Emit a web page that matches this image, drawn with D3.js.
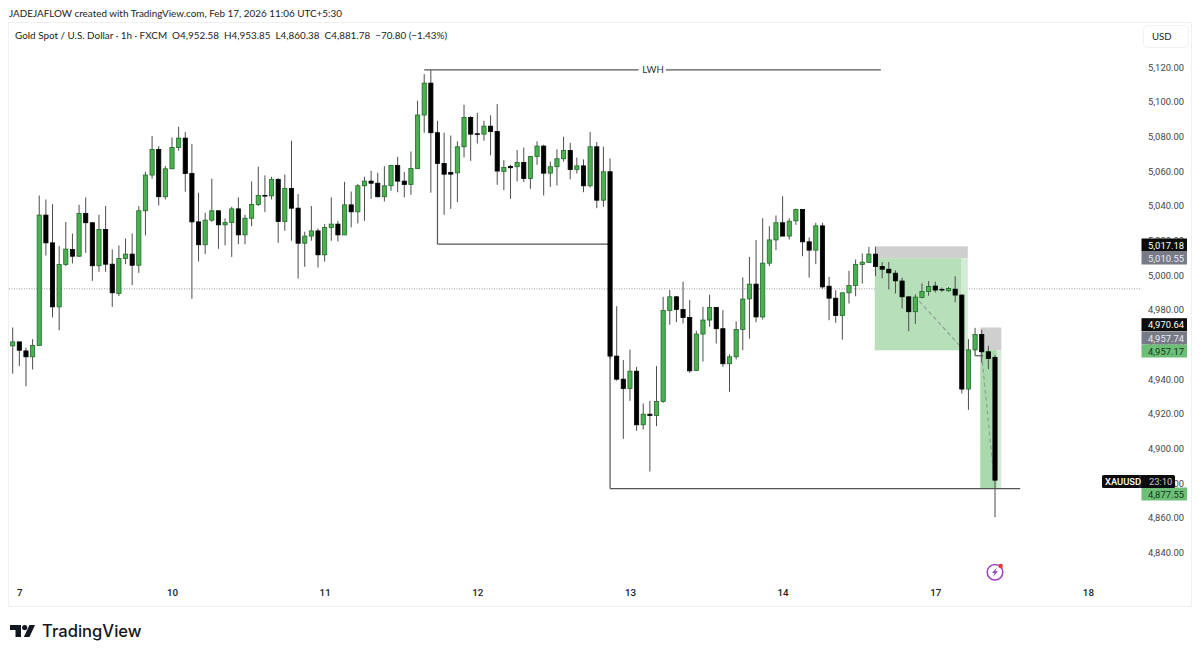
<!DOCTYPE html>
<html>
<head>
<meta charset="utf-8">
<script src="https://cdn.jsdelivr.net/npm/d3@7"></script>
<style>
  html, body { margin: 0; padding: 0; background: #fff; }
  svg { display: block; }
  text { font-family: "Lato", sans-serif; fill: #222; white-space: pre; }
  .axis text, .tag text { font-family: "Roboto", sans-serif; }
</style>
</head>
<body>
<div id="root"></div>
<script>
const opens = [
  4959.2,4961.5,4956.3,4952.9,4959.4,5034.6,5018.6,4981.7,5006.1,5014.8,
  5010.9,5035.6,5030.2,5005.4,5026.3,5006.3,4989.4,5009.6,5012.1,5005.7,
  5037.1,5057.7,5072.5,5045.2,5061.3,5073.6,5079.0,5058.6,5030.7,5017.5,
  5031.7,5037.1,5029.0,5030.3,5038.2,5023.2,5032.8,5040.7,5045.9,5045.7,
  5055.2,5030.9,5050.0,5038.6,5018.4,5022.5,5025.5,5011.7,5027.5,5029.4,
  5023.2,5040.5,5036.5,5051.5,5054.2,5053.0,5045.2,5051.5,5063.2,5054.2,
  5052.3,5061.5,5092.3,5110.7,5082.1,5064.4,5059.2,5059.0,5074.0,5090.9,
  5081.5,5081.3,5085.9,5082.8,5059.8,5062.7,5062.5,5065.0,5055.7,5068.4,
  5074.4,5058.8,5062.5,5067.1,5071.9,5060.9,5063.0,5051.5,5074.0,5043.2,
  5059.6,4953.3,4940.0,4934.6,4944.6,4913.7,4919.8,4919.1,4927.1,4979.6,
  4987.5,4980.2,4975.6,4945.0,4966.0,4974.1,4981.4,4969.1,4948.9,4952.9,
  4968.7,4986.3,4994.8,4975.9,5006.9,5020.3,5030.2,5022.5,5031.3,5037.8,
  5019.2,5014.4,5028.4,4993.6,4986.7,4976.7,4989.8,4994.0,5006.1,5007.3,
  5012.1,5005.0,5003.4,5001.1,4996.6,4987.5,4978.9,4987.1,4990.6,4993.7,
  4991.8,4991.0,4991.9,4988.5,4934.3,4956.9,4965.8,4955.8,4952.58
];
const closes = [
  4961.5,4956.7,4952.9,4959.4,5034.6,5018.6,4981.7,5006.1,5015.0,5010.9,
  5035.6,5030.2,5005.4,5026.3,5006.3,4989.8,5009.6,5012.1,5005.7,5037.1,
  5057.7,5072.5,5045.2,5061.3,5073.6,5079.0,5058.6,5030.7,5017.5,5031.7,
  5037.1,5029.0,5030.3,5038.2,5023.2,5032.8,5040.7,5045.9,5045.7,5055.2,
  5030.9,5050.0,5038.6,5018.4,5022.5,5025.5,5011.7,5027.5,5029.4,5023.2,
  5040.5,5036.5,5051.5,5054.2,5053.0,5045.2,5051.5,5063.2,5054.2,5052.3,
  5061.5,5092.3,5110.7,5082.1,5064.4,5058.2,5058.2,5074.0,5090.9,5081.3,
  5081.2,5085.9,5082.8,5060.0,5062.1,5061.9,5065.0,5055.7,5068.4,5074.4,
  5058.8,5062.5,5067.1,5071.9,5060.9,5063.0,5051.5,5074.0,5043.2,5059.6,
  4953.3,4940.0,4934.6,4944.6,4913.7,4919.8,4919.1,4927.1,4979.6,4987.5,
  4980.2,4975.6,4944.8,4966.0,4974.1,4981.4,4969.1,4948.9,4952.9,4968.7,
  4986.2,4994.8,4975.9,5006.9,5020.3,5030.2,5022.5,5031.1,5037.8,5019.2,
  5014.4,5028.4,4993.2,4986.7,4976.7,4989.8,4994.0,5006.1,5007.5,5012.1,
  5005.0,5003.4,5001.3,4996.7,4987.5,4978.9,4987.3,4990.6,4993.5,4991.4,
  4991.4,4992.3,4988.5,4934.3,4956.9,4965.8,4955.8,4951.9,4881.78
];
const highs = [
  4969.8,4961.6,4958.2,4963.1,5045.9,5043.6,5040.9,5016.7,5030.6,5024.0,
  5040.6,5044.8,5030.2,5034.8,5039.8,5014.8,5017.1,5021.1,5024.0,5039.8,
  5059.6,5080.2,5074.4,5062.9,5079.4,5085.6,5082.5,5075.6,5047.5,5035.9,
  5055.6,5037.1,5032.7,5039.4,5044.8,5034.8,5054.0,5062.5,5057.5,5056.7,
  5055.9,5058.0,5077.5,5046.7,5025.0,5039.8,5026.9,5029.4,5044.8,5031.3,
  5053.8,5048.2,5052.5,5056.7,5060.2,5059.0,5062.8,5063.6,5068.2,5059.4,
  5071.3,5100.5,5115.9,5118.2,5089.0,5082.1,5080.5,5077.1,5098.2,5091.7,
  5093.6,5089.0,5092.1,5098.6,5066.3,5063.6,5072.1,5073.6,5068.6,5077.1,
  5075.2,5065.5,5072.5,5079.8,5076.3,5067.8,5066.7,5082.5,5076.7,5074.0,
  5067.3,4982.1,4951.0,4957.1,4947.1,4926.0,4927.5,4947.5,4987.5,4991.4,
  4987.9,4996.2,4985.6,4967.9,4981.7,4988.7,4981.4,4979.8,4954.4,4973.3,
  4998.7,5010.5,5020.2,5032.8,5028.2,5034.4,5045.5,5032.8,5038.4,5037.8,
  5021.7,5030.2,5030.2,4999.0,4991.3,4989.8,5002.5,5009.0,5012.5,5016.3,
  5016.3,5007.5,5007.5,5002.8,4998.5,4987.5,4988.9,4995.2,4996.6,4996.2,
  4992.7,4993.1,4999.3,4988.9,4963.1,4969.6,4968.5,4959.3,4953.85
];
const lows = [
  4943.2,4947.5,4935.9,4945.6,4959.4,5011.3,4975.6,4968.2,5005.2,5006.7,
  5010.6,5012.9,4996.7,5001.9,5001.9,4981.7,4987.9,5006.3,4994.2,5001.3,
  5022.9,5055.6,5040.2,5043.6,5061.3,5071.7,5048.1,4986.3,5007.9,5012.1,
  5030.7,5015.2,5017.1,5010.5,5017.8,5017.8,5028.2,5039.8,5036.3,5043.6,
  5018.6,5025.5,5019.8,4998.0,5004.8,5019.8,5004.4,5007.8,5019.8,5019.4,
  5023.2,5027.5,5029.8,5031.3,5044.0,5044.8,5042.5,5048.6,5047.8,5044.8,
  5046.3,5061.5,5082.1,5047.5,5064.4,5034.8,5038.2,5042.1,5067.8,5065.9,
  5075.9,5077.5,5069.0,5052.1,5049.0,5044.0,5054.0,5053.6,5049.8,5063.6,
  5045.9,5050.9,5051.7,5065.5,5055.2,5058.6,5047.8,5050.5,5038.6,5039.4,
  4952.0,4939.1,4905.6,4927.5,4910.2,4911.0,4886.7,4912.9,4926.4,4971.4,
  4972.9,4972.1,4943.7,4944.8,4950.2,4970.2,4960.6,4947.1,4932.7,4951.4,
  4956.7,4963.4,4972.8,4974.4,5005.2,5014.4,5022.5,5020.5,5029.0,5010.9,
  4998.6,5006.3,4992.1,4974.0,4972.5,4962.8,4983.6,4987.8,4995.2,5007.1,
  4999.4,4998.2,4991.7,4989.4,4980.8,4967.7,4971.9,4986.6,4988.1,4990.0,
  4990.4,4990.4,4984.3,4931.8,4922.3,4956.4,4949.6,4945.8,4860.38
];

const priceTicks = d3.range(4840, 5121, 20);
const dayLabels = ["7", "10", "11", "12", "13", "14", "17", "18"];
const dayBars = [1, 24, 47, 70, 93, 116, 139, 162];

const prevClose = 4992.1;
const lwhPrice = 5118.3;
const midLow = 5017.9;
const swingLow = 4876.9;

const tagTexts = ["5,017.18", "5,010.55", "4,970.64", "4,957.74", "4,957.17", "4,877.55"];
const tagKinds = ["black", "gray", "black", "gray", "green", "green"];

const width = 1200, height = 656;
const x = d3.scaleLinear().domain([0, 148]).range([12.7, 995]);
const y = d3.scaleLinear().domain([4840, 5120]).range([552.6, 67]);

const svg = d3.select("#root").append("svg").attr("width", width).attr("height", height);

// pane border
svg.append("rect").attr("x", 8.5).attr("y", 22.5).attr("width", 1183).attr("height", 584)
  .attr("fill", "none").attr("stroke", "#f0f0f0");

svg.append("text").attr("x", 9).attr("y", 17).attr("font-size", 9.9)
  .text("JADEJAFLOW created with TradingView.com, Feb 17, 2026 11:06 UTC+5:30");
svg.append("text").attr("x", 15).attr("y", 39).attr("font-size", 9.9)
  .text("Gold Spot / U.S. Dollar · 1h · FXCM  O4,952.58  H4,953.85  L4,860.38  C4,881.78  −70.80 (−1.43%)");

// USD button
svg.append("rect").attr("x", 1143.5).attr("y", 25.5).attr("width", 45).attr("height", 22).attr("rx", 4)
  .attr("fill", "#fff").attr("stroke", "#f2f2f2");
svg.append("text").attr("x", 1152).attr("y", 39.5).attr("font-size", 9.6).text("USD");

// last-close dotted line
svg.append("line").attr("x1", 9).attr("x2", 1141).attr("y1", y(prevClose)).attr("y2", y(prevClose))
  .attr("stroke", "#9a9a9a").attr("stroke-dasharray", "1,1.5");

// position tools, short one on 14th then the one into 17th
function zone(i0, i1, top, bottom, fill) {
  svg.append("rect").attr("x", x(i0)).attr("width", x(i1) - x(i0))
    .attr("y", y(top)).attr("height", y(bottom) - y(top)).attr("fill", fill);
}
zone(129.9, 143.9, 5016.6, 5009.7, "#cfcfcf");
zone(129.9, 143.9, 5009.7, 4956.7, "#d2ebd3");
zone(129.9, 142.9, 5009.7, 4956.7, "#b7dfba");
zone(145.8, 148.95, 4969.8, 4956.7, "#cfcfcf");
zone(145.8, 148.95, 4956.7, swingLow, "#d2ebd3");
zone(145.8, 148.25, 4956.7, swingLow, "#a9d9ad");

function dash(i0, p0, i1, p1) {
  svg.append("line").attr("x1", x(i0)).attr("x2", x(i1)).attr("y1", y(p0)).attr("y2", y(p1))
    .attr("stroke", "#8fa892").attr("stroke-width", 1.3).attr("stroke-dasharray", "4,3");
}
dash(136.6, 4985, 143, 4958);
dash(146.1, 4950, 147.9, 4881);

// marked levels
const lineColor = "#555";
function seg(i0, p0, i1, p1) {
  svg.append("line").attr("x1", x(i0)).attr("x2", x(i1)).attr("y1", y(p0)).attr("y2", y(p1))
    .attr("stroke", lineColor).attr("stroke-width", 1.2);
}
seg(62, lwhPrice, 130.8, lwhPrice);
seg(64, closes[64], 64, midLow);
seg(64, midLow, 90, midLow);
seg(90, closes[90], 90, swingLow);
seg(90, swingLow, 151.8, swingLow);
seg(145, 4956.7, 145, 4953.5);
seg(145, 4953.5, 146.2, 4953.5);

// LWH label sits in a gap of the line
svg.append("rect").attr("x", 638.5).attr("y", y(lwhPrice) - 6).attr("width", 27.5).attr("height", 12).attr("fill", "#fff");
svg.append("text").attr("x", 653).attr("y", y(lwhPrice) + 3.5).attr("text-anchor", "middle")
  .attr("font-size", 9.6).style("fill", "#333").text("LWH");

// candles
const bars = svg.append("g").selectAll("g").data(opens).enter().append("g");
bars.append("line")
  .attr("x1", (d, i) => x(i)).attr("x2", (d, i) => x(i))
  .attr("y1", (d, i) => y(highs[i])).attr("y2", (d, i) => y(lows[i]))
  .attr("stroke", "#4d4d4d").attr("stroke-width", 1);
bars.append("rect")
  .attr("x", (d, i) => x(i) - 2.1).attr("width", 4.2)
  .attr("y", (d, i) => y(Math.max(opens[i], closes[i])))
  .attr("height", (d, i) => Math.max(0.6, Math.abs(y(opens[i]) - y(closes[i]))))
  .attr("fill", (d, i) => closes[i] >= opens[i] ? "#4caf50" : "#000")
  .attr("stroke", (d, i) => closes[i] >= opens[i] ? "#1f6b2a" : "#000")
  .attr("stroke-width", 0.8);

// price scale
const yAxis = d3.axisRight(y).tickValues(priceTicks).tickFormat(d3.format(",.2f")).tickSize(0).tickPadding(0);
const yG = svg.append("g").attr("class", "axis").attr("transform", "translate(1148,0)").call(yAxis);
yG.select(".domain").remove();
yG.selectAll("text").attr("font-size", 9.4).style("fill", "#444");

// day labels sit on bar indexes
const xAxis = d3.axisBottom(x).tickValues(dayBars).tickFormat((d, i) => dayLabels[i]).tickSize(0).tickPadding(0);
const xG = svg.append("g").attr("class", "axis").attr("transform", "translate(0,589)").call(xAxis);
xG.select(".domain").remove();
xG.selectAll("text").attr("font-size", 9.8).attr("font-weight", 500).style("fill", "#222");

// price tags, stacked by TradingView so they do not overlap
const tagY = [245, 258, 324.7, 338, 351, 494];
const tagFill = { black: "#0c0c0c", gray: "#787b86", green: "#6dbf77" };
const tagText = { black: "#fff", gray: "#e8e8ee", green: "#13391a" };
const tags = svg.append("g").attr("class", "tag").selectAll("g").data(tagTexts).enter().append("g")
  .attr("transform", (d, i) => `translate(1141.5,${tagY[i] - 6.5})`);
tags.append("rect").attr("width", 45.5).attr("height", 13).attr("fill", (d, i) => tagFill[tagKinds[i]]);
tags.append("text").attr("x", 6.5).attr("y", 10).attr("font-size", 9.4)
  .style("fill", (d, i) => tagText[tagKinds[i]]).text(d => d);

// symbol + countdown
const sym = svg.append("g").attr("class", "tag").attr("transform", "translate(1102,475)");
sym.append("rect").attr("width", 73).attr("height", 13).attr("rx", 1.5).attr("fill", "#0c0c0c");
sym.append("line").attr("x1", 38).attr("x2", 38).attr("y1", 0).attr("y2", 13).attr("stroke", "#444");
sym.append("text").attr("x", 3).attr("y", 10).attr("font-size", 9.4).attr("font-weight", 500).style("fill", "#fff").text("XAUUSD");
sym.append("text").attr("x", 47).attr("y", 10).attr("font-size", 9.4).style("fill", "#c8c8c8").text("23:10");

// purple flash icon
const ico = svg.append("g").attr("transform", "translate(995,572.3)");
ico.append("circle").attr("r", 7.8).attr("fill", "#fff").attr("stroke", "#9c3fc0").attr("stroke-width", 1.5);
ico.append("path").attr("d", "M1.8,-4.5 L-3,0.8 L-0.4,0.8 L-1.8,4.5 L3,-1 L0.4,-1 Z").attr("fill", "#9c3fc0");
ico.append("circle").attr("cx", 5.7).attr("cy", -6.3).attr("r", 2.2).attr("fill", "#e53935");

// TradingView mark
const logo = svg.append("g").attr("transform", "translate(10,625)").attr("fill", "#131722");
logo.append("path").attr("d", "M0,0 H11 V12 H5.5 V5 H0 Z");
logo.append("circle").attr("cx", 14.7).attr("cy", 2.6).attr("r", 2.6);
logo.append("path").attr("d", "M19.5,0 H25 L19.5,12 H13.8 Z");
svg.append("text").attr("x", 42).attr("y", 637).attr("font-size", 16.6).attr("font-weight", 500)
  .style("font-family", "Inter, sans-serif").style("fill", "#131722").text("TradingView");
</script>
</body>
</html>
